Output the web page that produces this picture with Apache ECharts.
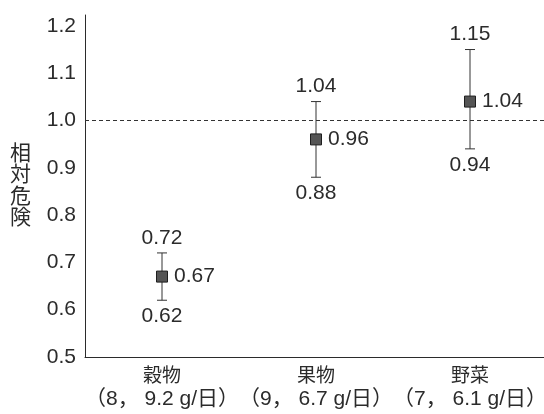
<!DOCTYPE html>
<html>
<head>
<meta charset="utf-8">
<script src="https://cdn.jsdelivr.net/npm/echarts@6/dist/echarts.min.js"></script>
<style>
  html, body { margin: 0; padding: 0; background: #fff; }
  #chart { width: 544px; height: 414px; }
</style>
</head>
<body>
<div id="chart"></div>
<script>
// Relative risk by food group, with 95% confidence intervals
const categories = ['穀物', '果物', '野菜'];
const subLabels = ['（8， 9.2 g/日）', '（9， 6.7 g/日）', '（7， 6.1 g/日）'];
const riskValues = [0.67, 0.96, 1.04];
const lowerCI = [0.62, 0.88, 0.94];
const upperCI = [0.72, 1.04, 1.15];
const yTicks = [0.5, 0.6, 0.7, 0.8, 0.9, 1.0, 1.1, 1.2];

const FONT = '"Liberation Sans", Arial, "Noto Sans CJK JP", sans-serif';
const INK = '#2b2b2b';

const chart = echarts.init(document.getElementById('chart'), null, { renderer: 'canvas' });

const ciData = categories.map((c, i) => [i, lowerCI[i], upperCI[i]]);
const pointData = categories.map((c, i) => [i, riskValues[i]]);

chart.setOption({
  animation: false,
  backgroundColor: '#ffffff',
  grid: { left: 85, right: -3, top: 15, bottom: 57, containLabel: false, outerBoundsMode: 'none' },
  xAxis: {
    type: 'category',
    data: categories,
    boundaryGap: true,
    axisLine: { show: true, lineStyle: { color: INK, width: 1 } },
    axisTick: { show: false },
    axisLabel: {
      margin: 8,
      interval: 0,
      hideOverlap: false,
      formatter: (v, i) => '{a|' + v + '}\n{b|' + subLabels[i] + '}',
      rich: {
        a: { fontFamily: FONT, fontSize: 19, color: INK, lineHeight: 23 },
        b: { fontFamily: FONT, fontSize: 21, color: INK, lineHeight: 23 }
      }
    },
    splitLine: { show: false }
  },
  yAxis: {
    type: 'value',
    min: yTicks[0],
    max: 1.223,
    interval: 0.1,
    name: '相\n対\n危\n険',
    nameLocation: 'middle',
    nameRotate: 0,
    nameGap: 54,
    nameTextStyle: { fontFamily: FONT, fontSize: 21, color: INK, lineHeight: 21.5 },
    axisLine: { show: true, lineStyle: { color: INK, width: 1 } },
    axisTick: { show: false },
    splitLine: { show: false },
    axisLabel: {
      margin: 9,
      showMaxLabel: false,
      fontFamily: FONT,
      fontSize: 21,
      color: INK,
      formatter: v => yTicks.some(t => Math.abs(t - v) < 1e-6) ? v.toFixed(1) : ''
    }
  },
  series: [
    {
      type: 'custom',
      data: ciData,
      z: 2,
      renderItem(params, api) {
        const x = api.value(0);
        const lo = api.coord([x, api.value(1)]);
        const hi = api.coord([x, api.value(2)]);
        const cap = 5;
        const stroke = { stroke: '#333', lineWidth: 1 };
        const txt = (t, px, py) => ({
          type: 'text', x: px, y: py,
          style: { text: t, fill: INK, font: '21px ' + FONT, align: 'center', verticalAlign: 'middle' }
        });
        return {
          type: 'group',
          children: [
            { type: 'line', shape: { x1: lo[0], y1: lo[1], x2: hi[0], y2: hi[1] }, style: stroke },
            { type: 'line', shape: { x1: hi[0] - cap, y1: hi[1], x2: hi[0] + cap, y2: hi[1] }, style: stroke },
            { type: 'line', shape: { x1: lo[0] - cap, y1: lo[1], x2: lo[0] + cap, y2: lo[1] }, style: stroke },
            txt(api.value(2).toFixed(2), hi[0], hi[1] - 15),
            txt(api.value(1).toFixed(2), lo[0], lo[1] + 16)
          ]
        };
      }
    },
    {
      type: 'scatter',
      data: pointData,
      z: 3,
      symbol: 'rect',
      symbolSize: 11,
      itemStyle: { color: '#555', borderColor: '#1e1e1e', borderWidth: 1, opacity: 1 },
      label: {
        show: true,
        position: 'right',
        distance: 6,
        fontFamily: FONT,
        fontSize: 21,
        color: INK,
        formatter: p => p.value[1].toFixed(2)
      },
      emphasis: { disabled: true },
      markLine: {
        silent: true,
        symbol: ['none', 'none'],
        label: { show: false },
        lineStyle: { color: '#333', type: [4, 3], width: 1 },
        data: [{ yAxis: 1.0 }]
      }
    }
  ]
});
</script>
</body>
</html>
